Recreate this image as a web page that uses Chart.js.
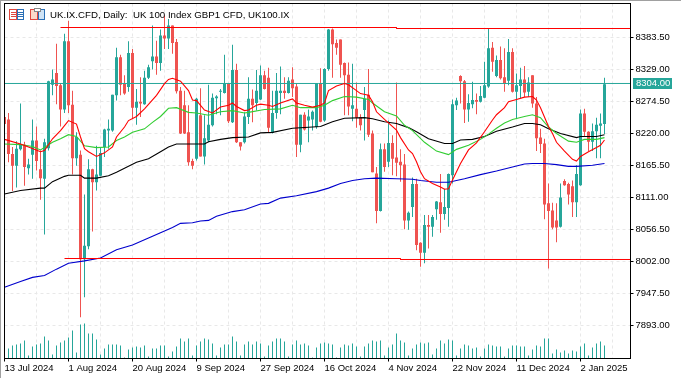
<!DOCTYPE html>
<html>
<head>
<meta charset="utf-8">
<style>
html, body { margin: 0; padding: 0; background: #fff; }
canvas { display: block; }
</style>
<script src="https://cdn.jsdelivr.net/npm/chart.js@4"></script>
</head>
<body>
<canvas id="grafico" width="681" height="378"></canvas>
<script>
const titleText = "UK.IX.CFD, Daily:  UK 100 Index GBP1 CFD, UK100.IX";

const opens = [8248,8244,8185,8165,8193,8201,8161,8184,8208,8159,
8143,8195,8303,8323,8302,8261,8377,8269,8178,8184,
8006,8028,8159,8137,8148,8197,8225,8225,8285,8350,
8305,8299,8357,8264,8274,8270,8315,8343,8351,8340,
8387,8382,8404,8376,8293,8268,8222,8173,8177,8251,
8181,8208,8234,8280,8291,8289,8305,8239,8328,8205,
8205,8248,8279,8272,8278,8319,8315,8221,8255,8289,
8293,8289,8312,8300,8201,8252,8242,8244,8231,8305,
8242,8330,8397,8374,8380,8340,8320,8262,8262,8248,
8260,8286,8220,8152,8088,8193,8172,8204,8179,8172,
8167,8072,8095,8134,8034,8017,8064,8061,8091,8103,
8083,8093,8149,8268,8318,8309,8261,8270,8277,8274,
8281,8300,8366,8318,8345,8316,8310,8359,8291,8301,
8312,8291,8319,8271,8213,8203,8101,8089,8072,8061,
8139,8134,8130,8103,8132,8254,8223,8206,8224,8233,8236];

const closes = [8236,8185,8165,8194,8201,8163,8167,8208,8173,8144,
8205,8309,8312,8301,8261,8377,8268,8178,8214,8006,
8029,8159,8137,8150,8187,8227,8228,8286,8350,8303,
8288,8357,8264,8274,8271,8315,8333,8351,8340,8387,
8382,8404,8374,8292,8220,8220,8171,8165,8279,8181,
8212,8235,8281,8283,8293,8305,8241,8328,8205,8198,
8249,8279,8268,8293,8319,8296,8230,8255,8293,8293,
8289,8310,8297,8201,8252,8227,8249,8257,8305,8240,
8330,8397,8372,8366,8337,8319,8266,8268,8247,8234,
8279,8218,8154,8088,8193,8163,8204,8177,8170,8166,
8072,8085,8134,8030,8017,8064,8061,8078,8104,8083,
8095,8151,8270,8276,8309,8261,8272,8277,8274,8284,
8302,8365,8342,8345,8314,8305,8359,8291,8302,8312,
8290,8307,8271,8212,8202,8099,8088,8060,8060,8111,
8132,8116,8103,8151,8254,8223,8206,8224,8235,8237,8304];

const highs = [8251,8255,8197,8207,8271,8206,8177,8244,8232,8191,
8211,8310,8329,8373,8306,8390,8412,8293,8222,8191,
8116,8176,8160,8199,8197,8228,8244,8286,8366,8354,
8319,8377,8364,8296,8316,8327,8337,8404,8378,8397,
8421,8415,8404,8381,8299,8293,8268,8177,8281,8297,
8251,8303,8288,8285,8296,8354,8305,8371,8339,8205,
8256,8316,8295,8328,8336,8327,8332,8293,8323,8334,
8316,8316,8333,8305,8252,8256,8261,8259,8305,8331,
8331,8398,8399,8380,8380,8341,8341,8339,8307,8253,
8299,8330,8225,8163,8203,8203,8242,8217,8307,8193,
8185,8087,8145,8143,8035,8081,8081,8081,8105,8151,
8126,8152,8278,8281,8319,8311,8287,8308,8288,8301,
8342,8399,8376,8353,8368,8365,8381,8365,8322,8332,
8335,8316,8319,8282,8228,8211,8135,8102,8101,8135,
8142,8136,8140,8166,8261,8262,8224,8237,8247,8254,8315];

const lows = [8234,8171,8122,8128,8191,8131,8150,8143,8157,8107,
8048,8191,8285,8270,8232,8255,8255,8150,8165,7907,
7941,8023,8053,8123,8147,8180,8194,8223,8276,8285,
8286,8291,8245,8235,8248,8269,8313,8329,8320,8327,
8364,8364,8356,8288,8219,8219,8165,8159,8174,8181,
8167,8205,8232,8253,8251,8288,8238,8238,8204,8191,
8203,8236,8239,8259,8277,8295,8222,8220,8245,8253,
8279,8288,8282,8180,8188,8225,8205,8225,8228,8239,
8240,8327,8315,8354,8315,8251,8251,8241,8230,8225,
8208,8214,8154,8067,8087,8155,8163,8149,8147,8138,
8057,8056,8078,8021,7993,7999,8024,8044,8073,8051,
8073,8061,8135,8260,8271,8238,8240,8263,8253,8273,
8280,8298,8325,8316,8312,8291,8302,8290,8245,8280,
8282,8282,8264,8190,8187,8074,7990,8057,8035,8060,
8131,8099,8078,8078,8131,8214,8190,8190,8178,8178,8219];

const volumes = [10,10,13,14,15,18,3,12,14,15,
22,18,4,13,16,18,21,28,6,34,
35,25,25,19,4,10,14,14,14,13,
1,9,11,12,11,13,2,10,10,13,
13,2,7,12,20,17,20,3,13,17,
20,19,15,3,11,14,14,22,17,3,
14,17,14,17,15,2,13,17,20,20,
17,2,14,18,14,15,13,1,11,15,
16,15,14,1,11,14,13,15,12,2,
12,15,18,17,18,3,11,14,25,18,
16,3,10,14,16,15,16,4,10,18,
15,19,18,3,10,14,13,10,11,2,
10,14,13,12,12,2,10,13,13,12,
12,3,9,13,12,20,20,5,9,6,
8,5,8,7,12,15,3,11,15,17,13];

// medias moveis lidas a olho, so nas barras onde deu para ler
const redBars = [0,4,6,9,10,12,14,16,18,19,20,21,23,25,27,28,30,31,33,35,38,40,41,42,44,46,47,48,50,52,54,56,57,58,60,61,63,64,66,67,69,72,73,75,77,79,80,81,83,85,86,88,89,91,92,93,95,98,99,101,102,103,104,105,107,109,110,111,112,114,116,118,120,122,123,125,126,128,130,132,133,134,136,137,138,140,142,143,144,146,148,149,150];
const redValues = [8210,8202,8197,8189,8191,8211,8225,8242,8236,8214,8194,8189,8181,8187,8197,8214,8231,8242,8249,8262,8285,8305,8312,8314,8309,8293,8277,8276,8260,8255,8265,8268,8272,8266,8259,8260,8268,8270,8268,8266,8272,8279,8272,8268,8265,8268,8272,8293,8301,8305,8303,8293,8288,8285,8274,8257,8244,8226,8213,8192,8186,8172,8155,8143,8135,8129,8125,8126,8141,8169,8192,8204,8223,8243,8252,8264,8274,8278,8282,8283,8277,8264,8232,8220,8205,8190,8176,8173,8181,8189,8196,8200,8209];

const greenBars = [0,4,7,9,12,14,16,18,20,23,26,28,30,32,35,37,39,41,43,46,48,51,54,57,60,61,65,69,72,74,78,80,82,85,88,91,92,95,98,100,102,105,108,111,113,116,119,121,123,125,127,130,132,134,136,138,141,143,145,148,150];
const greenValues = [8202,8201,8198,8192,8205,8211,8218,8215,8199,8196,8197,8208,8214,8222,8228,8239,8249,8263,8264,8256,8255,8251,8257,8259,8255,8256,8261,8262,8268,8264,8264,8268,8276,8283,8282,8278,8272,8257,8250,8234,8225,8205,8190,8184,8193,8200,8210,8219,8229,8238,8244,8249,8252,8247,8231,8220,8207,8205,8210,8210,8213];

const blackBars = [0,4,9,10,12,15,16,19,20,23,26,28,30,33,36,39,41,43,50,51,54,57,61,64,67,72,77,79,82,85,90,92,95,98,101,103,106,110,112,114,117,120,123,127,130,132,134,136,139,143,144,148,150];
const blackValues = [8117,8123,8127,8127,8138,8147,8149,8149,8144,8144,8148,8154,8161,8171,8177,8189,8197,8202,8202,8206,8210,8213,8214,8221,8222,8229,8231,8232,8240,8246,8247,8245,8240,8237,8230,8223,8211,8203,8203,8209,8210,8215,8224,8231,8237,8237,8235,8228,8220,8213,8215,8215,8218];

const blueBars = [0,4,7,10,13,16,20,24,28,32,36,39,42,44,47,49,51,53,57,60,64,66,69,73,78,81,84,87,90,93,98,102,104,108,111,115,119,123,127,130,132,135,138,141,143,147,150];
const blueValues = [7958,7968,7975,7978,7989,7999,8003,8008,8022,8030,8042,8051,8060,8067,8068,8071,8072,8079,8087,8090,8100,8101,8110,8114,8121,8127,8135,8140,8143,8144,8143,8142,8140,8137,8137,8143,8150,8156,8163,8168,8169,8169,8167,8164,8164,8166,8169];

// linhas horizontais vermelhas (cada uma tem um degrau pequeno)
const topLineBars = [14, 98, 98, 157];
const topLineValues = [8400.53, 8400.53, 8398.83, 8398.83];
const lowLineBars = [15, 99, 99, 157];
const lowLineValues = [8007.11, 8007.11, 8005.41, 8005.41];

const lastPrice = 8304;
const priceLineValue = 8305.2; // a linha aparece um pouco acima do valor do rotulo
const yTicks = [7893, 7947.5, 8002, 8056.5, 8111, 8165.5, 8220, 8274.5, 8329, 8383.5];
const xGridBars = [0,8,16,24,32,40,48,56,64,72,80,88,96,104,112,120,128,136,144,152];
const xLabelBars = [0,16,32,48,64,80,96,112,128,144];
const xLabels = ["13 Jul 2024","1 Aug 2024","20 Aug 2024","9 Sep 2024","27 Sep 2024","16 Oct 2024","4 Nov 2024","22 Nov 2024","11 Dec 2024","2 Jan 2025"];

const TEAL = "#26a69a";
const RED = "#ef5350";
const FONT = "Liberation Sans";
const GRID = "#e8e8e8";

const barColor = ctx => closes[ctx.dataIndex] >= opens[ctx.dataIndex] ? TEAL : RED;

function lineSet(bars, values, color, ordem, largura) {
    return {
        type: "line",
        data: bars.map((b, i) => ({ x: b, y: values[i] })),
        borderColor: color,
        borderWidth: largura,
        pointRadius: 0,
        tension: 0,
        order: ordem,
        yAxisID: "y"
    };
}

// moldura, titulo, icones e etiqueta do ultimo preco
const extras = {
    id: "extras",
    afterDraw(chart) {
        const ctx = chart.ctx;
        const area = chart.chartArea;
        ctx.save();

        ctx.fillStyle = "#a0a0a0";
        ctx.fillRect(0, 0, 681, 1);
        ctx.fillRect(0, 0, 1, 378);

        ctx.strokeStyle = "#000";
        ctx.lineWidth = 1;
        ctx.strokeRect(area.left, area.top, area.right - area.left, area.bottom - area.top);

        // icones do canto
        ctx.fillStyle = "#fff";
        ctx.fillRect(9, 9, 16, 11);
        ctx.strokeStyle = "#e0473e";
        ctx.strokeRect(9.5, 9.5, 7, 10);
        ctx.beginPath();
        ctx.moveTo(11, 12.5); ctx.lineTo(16, 12.5);
        ctx.moveTo(11, 14.5); ctx.lineTo(16, 14.5);
        ctx.moveTo(11, 16.5); ctx.lineTo(16, 16.5);
        ctx.stroke();
        ctx.strokeStyle = "#2a6fb5";
        ctx.strokeRect(17.5, 9.5, 6, 10);
        ctx.beginPath();
        ctx.moveTo(18, 12.5); ctx.lineTo(23, 12.5);
        ctx.moveTo(18, 14.5); ctx.lineTo(23, 14.5);
        ctx.moveTo(18, 16.5); ctx.lineTo(23, 16.5);
        ctx.stroke();
        ctx.fillStyle = "#fbd9c9";
        ctx.fillRect(31, 10, 6, 9);
        ctx.strokeStyle = "#e0473e";
        ctx.strokeRect(30.5, 9.5, 7, 10);
        ctx.fillStyle = "#cfe3f5";
        ctx.fillRect(38, 10, 6, 9);
        ctx.strokeStyle = "#2a6fb5";
        ctx.strokeRect(38.5, 9.5, 6, 10);
        ctx.fillStyle = "#fff";
        ctx.fillRect(34, 8, 7, 4);
        ctx.strokeStyle = "#888";
        ctx.strokeRect(34.5, 8.5, 6, 3);

        ctx.fillStyle = "#000";
        ctx.font = "9.7px '" + FONT + "'";
        ctx.textBaseline = "middle";
        ctx.textAlign = "left";
        ctx.fillText(titleText, 50, 15);

        const y = chart.scales.y.getPixelForValue(priceLineValue);
        ctx.fillStyle = TEAL;
        ctx.fillRect(633, Math.floor(y) - 5, 39, 11);
        ctx.fillStyle = "#fff";
        ctx.font = "9.5px '" + FONT + "'";
        ctx.fillText(lastPrice.toFixed(2), 636, Math.floor(y) + 0.5);
        ctx.restore();
    }
};

new Chart(document.getElementById("grafico"), {
    type: "bar",
    data: {
        datasets: [
            lineSet(topLineBars, topLineValues, "#ff0000", 1, 1),
            lineSet(lowLineBars, lowLineValues, "#ff0000", 1, 1),
            lineSet(redBars, redValues, "#ff0000", 2, 1.1),
            lineSet(greenBars, greenValues, "#32cd32", 3, 1.1),
            lineSet(blackBars, blackValues, "#000000", 4, 1.1),
            lineSet(blueBars, blueValues, "#0000cd", 5, 1.1),
            lineSet([0, 157], [priceLineValue, priceLineValue], TEAL, 6, 1),
            {
                data: opens.map((o, i) => ({ x: i, y: [o, closes[i]] })),
                backgroundColor: barColor,
                barThickness: 3,
                minBarLength: 1,
                inflateAmount: 0,
                grouped: false,
                order: 7,
                yAxisID: "y"
            },
            {
                data: highs.map((h, i) => ({ x: i, y: [lows[i], h] })),
                backgroundColor: barColor,
                barThickness: 1,
                inflateAmount: 0,
                grouped: false,
                order: 8,
                yAxisID: "y"
            },
            {
                data: volumes.map((v, i) => ({ x: i, y: v })),
                backgroundColor: TEAL,
                barThickness: 1,
                inflateAmount: 0,
                grouped: false,
                order: 9,
                yAxisID: "yVol"
            }
        ]
    },
    options: {
        responsive: false,
        animation: false,
        layout: { padding: { left: 4.5, top: 3.5, right: 0, bottom: 0 } },
        plugins: { legend: { display: false }, tooltip: { enabled: false } },
        scales: {
            x: {
                type: "linear",
                offset: false,
                min: 0,
                max: 156.5,
                afterBuildTicks: s => { s.ticks = xGridBars.map(v => ({ value: v })); },
                afterFit: s => { s.height = 19.5; s.paddingLeft = 0; s.paddingRight = 0; },
                grid: {
                    offset: false,
                    color: GRID,
                    tickLength: 3,
                    tickColor: c => xLabelBars.includes(c.tick.value) ? "#000" : "rgba(0,0,0,0)",
                    tickBorderDash: []
                },
                border: { display: false, dash: [3, 3] },
                ticks: {
                    autoSkip: false,
                    maxRotation: 0,
                    minRotation: 0,
                    align: "start",
                    padding: 1,
                    color: "#000",
                    font: { family: FONT, size: 9.5 },
                    callback: v => {
                        const k = xLabelBars.indexOf(v);
                        return k >= 0 ? xLabels[k] : "";
                    }
                }
            },
            y: {
                position: "right",
                min: 7836.8,
                max: 8441.41,
                beginAtZero: false,
                afterBuildTicks: s => { s.ticks = yTicks.map(v => ({ value: v })); },
                afterFit: s => { s.width = 50.5; s.paddingTop = 0; s.paddingBottom = 0; },
                grid: { color: GRID, tickLength: 3, tickColor: "#000", tickBorderDash: [] },
                border: { display: false, dash: [3, 3] },
                ticks: {
                    padding: 2,
                    color: "#000",
                    font: { family: FONT, size: 9.5 },
                    callback: v => v.toFixed(2)
                }
            },
            yVol: { display: false, min: 0, max: 355 }
        }
    },
    plugins: [extras]
});
</script>
</body>
</html>
